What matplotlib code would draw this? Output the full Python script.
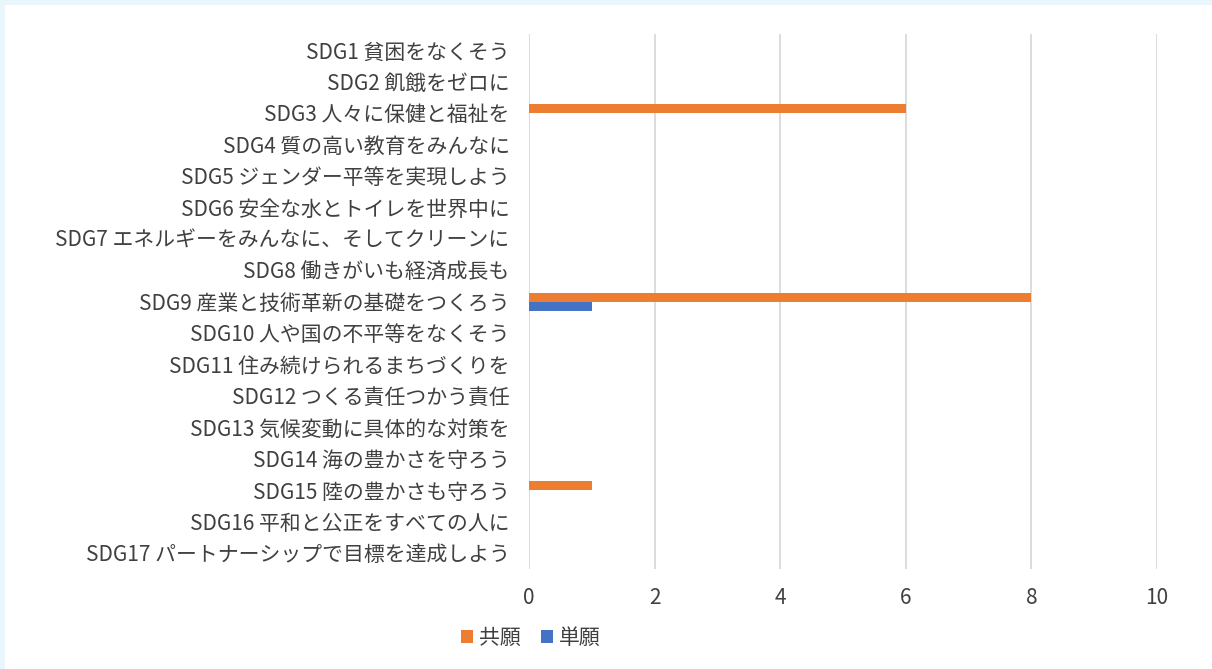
import numpy as np
import matplotlib
matplotlib.use("Agg")
import matplotlib.pyplot as plt
from matplotlib.patches import Rectangle

plt.rcParams['font.family'] = ['Noto Sans CJK JP', 'DejaVu Sans']

# SDGs categories and patent counts
categories = [
    "SDG1 貧困をなくそう",
    "SDG2 飢餓をゼロに",
    "SDG3 人々に保健と福祉を",
    "SDG4 質の高い教育をみんなに",
    "SDG5 ジェンダー平等を実現しよう",
    "SDG6 安全な水とトイレを世界中に",
    "SDG7 エネルギーをみんなに、そしてクリーンに",
    "SDG8 働きがいも経済成長も",
    "SDG9 産業と技術革新の基礎をつくろう",
    "SDG10 人や国の不平等をなくそう",
    "SDG11 住み続けられるまちづくりを",
    "SDG12 つくる責任つかう責任",
    "SDG13 気候変動に具体的な対策を",
    "SDG14 海の豊かさを守ろう",
    "SDG15 陸の豊かさも守ろう",
    "SDG16 平和と公正をすべての人に",
    "SDG17 パートナーシップで目標を達成しよう",
]
joint = [0, 0, 6, 0, 0, 0, 0, 0, 8, 0, 0, 0, 0, 0, 1, 0, 0]
single = [0, 0, 0, 0, 0, 0, 0, 0, 1, 0, 0, 0, 0, 0, 0, 0, 0]
series_names = ["共願", "単願"]
xticks = [0, 2, 4, 6, 8, 10]

fig = plt.figure(figsize=(12.12, 6.69), dpi=100)
fig.patch.set_facecolor('#e9f6fc')
fig.patches.append(Rectangle((5 / 1212, 0), 1, 664 / 669, transform=fig.transFigure,
                             facecolor='white', edgecolor='none', zorder=-10))

ax = fig.add_axes([0.4365, 0.1499, 0.5182, 0.7988])
ax.set_facecolor('none')

y = np.arange(len(categories))
h = 0.286
ax.barh(y - h / 2, joint, height=h, color='#ed7d31', label=series_names[0], zorder=3)
ax.barh(y + h / 2, single, height=h, color='#4472c4', label=series_names[1], zorder=3)

ax.set_ylim(len(categories) - 0.5, -0.5)
ax.set_xlim(0, 10)
ax.set_xticks(xticks)
ax.set_yticks(y)
ax.set_yticklabels(categories)

ax.grid(axis='x', color='#d9d9d9', linewidth=1.3, zorder=0)
for s in ax.spines.values():
    s.set_visible(False)
ax.tick_params(axis='y', length=0, pad=14, labelsize=15, labelcolor='#404040')
ax.tick_params(axis='x', length=0, pad=13, labelsize=15, labelcolor='#404040')

fig.legend(loc='center', bbox_to_anchor=(531 / 1212, 1 - 638 / 669), ncol=2,
           frameon=False, fontsize=15, handlelength=0.55, handleheight=0.55,
           handletextpad=0.3, columnspacing=1.0, labelcolor='#404040')

fig.savefig('out.png', dpi=100)
